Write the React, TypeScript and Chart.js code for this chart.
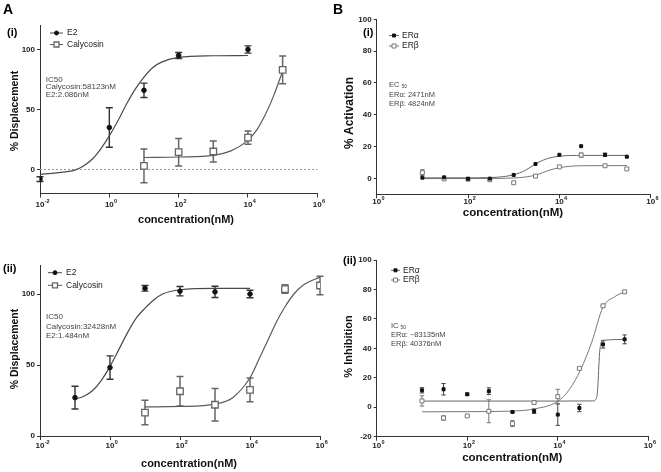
import React, { useEffect, useRef } from 'react';
import { Chart, registerables } from 'chart.js';

Chart.register(...registerables);

const FONT = '"Liberation Sans", Arial, Helvetica, sans-serif';

// ---------- Panel A(i) ----------
const aiE2X = [0.01, 1, 10, 100, 10000];
const aiE2Y = [-8, 35, 66, 95, 100];
const aiE2Err = [2, 16.5, 6, 2.5, 3];
const aiCalX = [10, 100, 1000, 10000, 100000];
const aiCalY = [3, 14.4, 15, 26.5, 83];
const aiCalErr = [14, 11.5, 8.7, 5.5, 11.5];
const aiE2FitX = [0.01, 0.03, 0.1, 0.18, 0.32, 0.56, 1, 1.8, 3.2, 5.6, 10, 18, 32, 100, 1000, 10000];
const aiE2FitY = [-3.9, -2.8, -0.5, 3, 8.5, 17, 28, 41, 55, 67, 77, 85, 89.5, 93.5, 94.8, 95];
const aiCalFitX = [10, 100, 1000, 3200, 10000, 18000, 32000, 56000, 100000];
const aiCalFitY = [10, 10.4, 11.8, 15.5, 24.5, 33, 46, 62, 82];

// ---------- Panel A(ii) ----------
const aiiE2X = [0.1, 1, 10, 100, 1000, 10000];
const aiiE2Y = [27, 48.2, 104, 102, 101.5, 100];
const aiiE2Err = [8, 8.2, 2, 3.3, 4, 2.6];
const aiiCalX = [10, 100, 1000, 10000, 100000, 1000000];
const aiiCalY = [16.5, 31.5, 22, 32.5, 103.5, 106];
const aiiCalErr = [8.6, 10.4, 11.4, 8.3, 3, 6.5];
const aiiE2FitX = [0.1, 0.18, 0.32, 0.56, 1, 1.8, 3.2, 5.6, 10, 18, 32, 100, 1000, 10000];
const aiiE2FitY = [26, 28, 32, 39, 49, 61, 73, 83, 90, 96, 100, 103, 104, 104];
const aiiCalFitX = [10, 100, 1000, 3200, 10000, 18000, 32000, 56000, 100000, 180000, 320000, 1000000];
const aiiCalFitY = [20.5, 20.8, 22.5, 27, 41, 54, 67, 80, 91, 100, 106, 112];

// ---------- Panels B ----------
const bConc = [10, 30, 100, 300, 1000, 3000, 10000, 30000, 100000, 300000];

const biAlphaY = [0.4, 0.6, -0.3, -0.2, 2.1, 9, 14.8, 20.2, 14.8, 13.6];
const biAlphaErr = [0, 0, 0, 0, 0, 0, 0, 0, 1, 0];
const biBetaY = [3.6, -0.4, -0.6, -0.9, -2.8, 1.4, 7.2, 14.6, 7.9, 5.9];
const biBetaErr = [1.8, 0, 0, 0, 0, 0, 0, 1.3, 0, 0];
const biAlphaFitX = [10, 100, 320, 1000, 1800, 3200, 5600, 10000, 32000, 300000];
const biAlphaFitY = [0.3, 0.3, 0.5, 2.2, 5, 9.5, 12.5, 13.9, 14.4, 14.4];
const biBetaFitX = [10, 300, 1000, 1800, 3200, 5600, 10000, 18000, 32000, 300000];
const biBetaFitY = [-0.2, -0.1, 0.2, 0.8, 2.2, 4.8, 6.7, 7.6, 7.9, 8];

const biiAlphaY = [11.5, 12.2, 8.8, 10.9, -3.2, -2.7, -5, -0.5, 42.7, 46.1];
const biiAlphaErr = [1.8, 3.9, 0.8, 2.3, 0.5, 1.5, 7.3, 2.5, 2.5, 3];
const biiBetaY = [4.3, -7.3, -5.9, -2.7, -11.1, 3.2, 7.2, 26.4, 68.9, 78.4];
const biiBetaErr = [3.5, 1.5, 0.5, 7.8, 2, 0.5, 5, 0.5, 0.5, 0.5];
const biiAlphaFitX = [10, 10000, 60000, 70000, 76000, 80000, 84000, 90000, 100000, 300000];
const biiAlphaFitY = [4.2, 4.2, 4.3, 5.5, 12, 25, 37, 43.5, 45.5, 46];
const biiBetaFitX = [10, 100, 1000, 3200, 10000, 18000, 32000, 56000, 100000, 180000, 300000];
const biiBetaFitY = [-3.1, -3, -2.6, -1, 4, 12, 25.5, 44, 68, 75, 78.5];

// ---------- Axis ticks ----------
const aXTicks = [0.01, 1, 100, 10000, 1000000];
const aXExp = ['-2', '0', '2', '4', '6'];
const bXTicks = [1, 100, 10000, 1000000];
const bXExp = ['0', '2', '4', '6'];
const aYTicks = [0, 50, 100];
const biYTicks = [0, 20, 40, 60, 80, 100];
const biiYTicks = [-20, 0, 20, 40, 60, 80, 100];

const styleE2 = { pointStyle: 'circle', radius: 2.3, fill: '#111', stroke: '#111', bw: 1, curve: '#4a4a4a', cw: 1.2, err: '#333', cap: 3.5, ew: 1.4 };
const styleCal = { pointStyle: 'rect', radius: 4.6, fill: '#fff', stroke: '#666', bw: 1.3, curve: '#5a5a5a', cw: 1.2, err: '#666', cap: 3.5, ew: 1.5 };
const styleAlpha = { pointStyle: 'rect', radius: 2.1, fill: '#111', stroke: '#111', bw: 1, curve: '#666', cw: 1, err: '#444', cap: 2.2, ew: 1 };
const styleBeta = { pointStyle: 'rect', radius: 2.8, fill: '#fff', stroke: '#777', bw: 1, curve: '#777', cw: 1, err: '#777', cap: 2.2, ew: 1 };

const panels = [
  {
    key: 'Ai', left: 0, top: 0, w: 330, h: 236,
    area: { l: 40, r: 317.3, t: 25.5, b: 193.5 },
    xMin: 0.01, xMax: 1000000, xTicks: aXTicks, xExp: aXExp, tickOff: 11.5,
    yMin: -20, yMax: 120, yTicks: aYTicks, tickBold: false,
    letter: 'A', roman: '(i)', romanPos: [7, 33],
    yTitle: '% Displacement', yTitlePos: [15, 111], yTitleSize: 10.5,
    xTitle: 'concentration(nM)', xTitlePos: [186, 220], xTitleSize: 11,
    zeroLine: true,
    series: [
      { label: 'E2', x: aiE2X, y: aiE2Y, err: aiE2Err, fx: aiE2FitX, fy: aiE2FitY, st: styleE2 },
      { label: 'Calycosin', x: aiCalX, y: aiCalY, err: aiCalErr, fx: aiCalFitX, fy: aiCalFitY, st: styleCal },
    ],
    legend: { x0: 50, x1: 63, tx: 67, ys: [33, 44.5], size: 8.5, marks: [2, 2.5] },
    annot: { x: 45.7, ys: [79.5, 87, 94.5], size: 8, lines: [{ t: 'IC50' }, { t: 'Calycosin:58123nM' }, { t: 'E2:2.086nM' }] },
  },
  {
    key: 'Aii', left: 0, top: 236, w: 330, h: 236,
    area: { l: 40, r: 320, t: 29.6, b: 200 },
    xMin: 0.01, xMax: 1000000, xTicks: aXTicks, xExp: aXExp, tickOff: 9.5,
    yMin: 0, yMax: 120, yTicks: aYTicks, tickBold: false,
    letter: '', roman: '(ii)', romanPos: [3, 33],
    yTitle: '% Displacement', yTitlePos: [15, 113], yTitleSize: 10.5,
    xTitle: 'concentration(nM)', xTitlePos: [189, 228.3], xTitleSize: 11,
    zeroLine: false,
    series: [
      { label: 'E2', x: aiiE2X, y: aiiE2Y, err: aiiE2Err, fx: aiiE2FitX, fy: aiiE2FitY, st: styleE2 },
      { label: 'Calycosin', x: aiiCalX, y: aiiCalY, err: aiiCalErr, fx: aiiCalFitX, fy: aiiCalFitY, st: styleCal },
    ],
    legend: { x0: 48, x1: 62, tx: 66, ys: [36.7, 49.3], size: 8.5, marks: [2, 2.5] },
    annot: { x: 46, ys: [81, 90.5, 99.5], size: 8, lines: [{ t: 'IC50' }, { t: 'Calycosin:32428nM' }, { t: 'E2:1.484nM' }] },
  },
  {
    key: 'Bi', left: 330, top: 0, w: 331, h: 236,
    area: { l: 46.7, r: 320.7, t: 19.3, b: 194.2 },
    xMin: 1, xMax: 1000000, xTicks: bXTicks, xExp: bXExp, tickOff: 7.5,
    yMin: -10, yMax: 100, yTicks: biYTicks, tickBold: true,
    letter: 'B', roman: '(i)', romanPos: [33, 33],
    yTitle: '% Activation', yTitlePos: [19.3, 113], yTitleSize: 12,
    xTitle: 'concentration(nM)', xTitlePos: [183, 213], xTitleSize: 11.5,
    zeroLine: false,
    series: [
      { label: 'ERα', x: bConc, y: biAlphaY, err: biAlphaErr, fx: biAlphaFitX, fy: biAlphaFitY, st: styleAlpha },
      { label: 'ERβ', x: bConc, y: biBetaY, err: biBetaErr, fx: biBetaFitX, fy: biBetaFitY, st: styleBeta },
    ],
    legend: { x0: 59, x1: 69, tx: 72, ys: [35.5, 46], size: 8.5, marks: [1.5, 2] },
    annot: { x: 59, ys: [85, 95, 104], size: 7.5, lines: [{ t: 'EC', sub: '50' }, { t: 'ERα: 2471nM' }, { t: 'ERβ: 4824nM' }] },
  },
  {
    key: 'Bii', left: 330, top: 236, w: 331, h: 236,
    area: { l: 46.7, r: 318.3, t: 24, b: 200.7 },
    xMin: 1, xMax: 1000000, xTicks: bXTicks, xExp: bXExp, tickOff: 9.3,
    yMin: -20, yMax: 100, yTicks: biiYTicks, tickBold: true,
    letter: '', roman: '(ii)', romanPos: [13, 25],
    yTitle: '% Inhibition', yTitlePos: [19.3, 110.5], yTitleSize: 11,
    xTitle: 'concentration(nM)', xTitlePos: [182.3, 221.7], xTitleSize: 11.5,
    zeroLine: false,
    series: [
      { label: 'ERα', x: bConc, y: biiAlphaY, err: biiAlphaErr, fx: biiAlphaFitX, fy: biiAlphaFitY, st: styleAlpha },
      { label: 'ERβ', x: bConc, y: biiBetaY, err: biiBetaErr, fx: biiBetaFitX, fy: biiBetaFitY, st: styleBeta },
    ],
    legend: { x0: 61, x1: 70, tx: 73, ys: [34.3, 44], size: 8.5, marks: [1.5, 2] },
    annot: { x: 61, ys: [90, 99.3, 108], size: 7.5, lines: [{ t: 'IC', sub: '50' }, { t: 'ERα: ~83135nM' }, { t: 'ERβ: 40376nM' }] },
  },
];

const X_AXIS_H = 20;

function drawMarker(ctx, st, x, y, r) {
  ctx.save();
  ctx.fillStyle = st.fill;
  ctx.strokeStyle = st.stroke;
  ctx.lineWidth = st.bw;
  ctx.beginPath();
  if (st.pointStyle === 'circle') {
    ctx.arc(x, y, r, 0, Math.PI * 2);
  } else {
    ctx.rect(x - r, y - r, 2 * r, 2 * r);
  }
  ctx.fill();
  ctx.stroke();
  ctx.restore();
}

function buildConfig(p) {
  const datasets = [];
  p.series.forEach((s) => {
    datasets.push({
      label: s.label,
      data: s.x.map((v, i) => ({ x: v, y: s.y[i] })),
      showLine: false,
      pointStyle: s.st.pointStyle,
      pointRadius: s.st.radius,
      pointBackgroundColor: s.st.fill,
      pointBorderColor: s.st.stroke,
      pointBorderWidth: s.st.bw,
    });
  });
  p.series.forEach((s) => {
    datasets.push({
      label: s.label + ' fit',
      data: s.fx.map((v, i) => ({ x: v, y: s.fy[i] })),
      showLine: true,
      pointRadius: 0,
      borderColor: s.st.curve,
      borderWidth: s.st.cw,
      tension: 0.4,
      cubicInterpolationMode: 'monotone',
      fill: false,
    });
  });

  const deco = {
    id: 'deco' + p.key,
    beforeDatasetsDraw(chart) {
      const ctx = chart.ctx;
      const xs = chart.scales.x;
      const ys = chart.scales.y;
      const ca = chart.chartArea;
      if (p.zeroLine) {
        ctx.save();
        ctx.strokeStyle = '#9a9a9a';
        ctx.lineWidth = 1;
        ctx.setLineDash([2, 2]);
        const y0 = ys.getPixelForValue(0);
        ctx.beginPath();
        ctx.moveTo(ca.left, y0);
        ctx.lineTo(ca.right, y0);
        ctx.stroke();
        ctx.restore();
      }
      p.series.forEach((s) => {
        ctx.save();
        ctx.strokeStyle = s.st.err;
        ctx.lineWidth = s.st.ew;
        s.x.forEach((xv, i) => {
          const e = s.err[i];
          if (!e) return;
          const px = xs.getPixelForValue(xv);
          const y1 = ys.getPixelForValue(s.y[i] + e);
          const y2 = ys.getPixelForValue(s.y[i] - e);
          const c = s.st.cap;
          ctx.beginPath();
          ctx.moveTo(px, y1);
          ctx.lineTo(px, y2);
          ctx.moveTo(px - c, y1);
          ctx.lineTo(px + c, y1);
          ctx.moveTo(px - c, y2);
          ctx.lineTo(px + c, y2);
          ctx.stroke();
        });
        ctx.restore();
      });
    },
    afterDraw(chart) {
      const ctx = chart.ctx;
      const xs = chart.scales.x;
      const ca = chart.chartArea;
      ctx.save();
      // x tick labels with superscripts
      p.xTicks.forEach((v, i) => {
        const px = xs.getPixelForValue(v);
        const y = ca.bottom + p.tickOff;
        ctx.fillStyle = '#222';
        ctx.font = `bold 8px ${FONT}`;
        ctx.textAlign = 'center';
        ctx.textBaseline = 'middle';
        const wb = ctx.measureText('10').width;
        ctx.fillText('10', px, y);
        ctx.font = `bold 5.5px ${FONT}`;
        ctx.textAlign = 'left';
        ctx.fillText(p.xExp[i], px + wb / 2 + 0.3, y - 3.2);
      });
      // axis titles
      ctx.fillStyle = '#111';
      ctx.font = `bold ${p.xTitleSize}px ${FONT}`;
      ctx.textAlign = 'center';
      ctx.textBaseline = 'middle';
      ctx.fillText(p.xTitle, p.xTitlePos[0], p.xTitlePos[1]);
      ctx.save();
      ctx.translate(p.yTitlePos[0], p.yTitlePos[1]);
      ctx.rotate(-Math.PI / 2);
      ctx.font = `bold ${p.yTitleSize}px ${FONT}`;
      ctx.fillText(p.yTitle, 0, 0);
      ctx.restore();
      // panel labels
      ctx.textAlign = 'left';
      ctx.fillStyle = '#000';
      if (p.letter) {
        ctx.font = `bold 14px ${FONT}`;
        ctx.fillText(p.letter, 3, 10);
      }
      ctx.font = `bold 11px ${FONT}`;
      ctx.fillText(p.roman, p.romanPos[0], p.romanPos[1]);
      // legend
      const lg = p.legend;
      p.series.forEach((s, i) => {
        const y = lg.ys[i];
        ctx.strokeStyle = s.st.curve;
        ctx.lineWidth = 1;
        ctx.beginPath();
        ctx.moveTo(lg.x0, y);
        ctx.lineTo(lg.x1, y);
        ctx.stroke();
        drawMarker(ctx, s.st, (lg.x0 + lg.x1) / 2, y, lg.marks[i]);
        ctx.fillStyle = '#222';
        ctx.font = `${lg.size}px ${FONT}`;
        ctx.textAlign = 'left';
        ctx.textBaseline = 'middle';
        ctx.fillText(s.label, lg.tx, y);
      });
      // annotation
      const an = p.annot;
      ctx.fillStyle = '#444';
      an.lines.forEach((ln, i) => {
        ctx.font = `${an.size}px ${FONT}`;
        ctx.fillText(ln.t, an.x, an.ys[i]);
        if (ln.sub) {
          const w = ctx.measureText(ln.t + ' ').width;
          ctx.font = `${an.size - 2.5}px ${FONT}`;
          ctx.fillText(ln.sub, an.x + w, an.ys[i] + 2);
        }
      });
      ctx.restore();
    },
  };

  return {
    type: 'scatter',
    data: { datasets },
    options: {
      responsive: false,
      maintainAspectRatio: false,
      animation: false,
      devicePixelRatio: 1,
      events: [],
      layout: {
        padding: {
          left: 0,
          top: p.area.t,
          right: p.w - p.area.r,
          bottom: p.h - p.area.b - X_AXIS_H,
        },
      },
      plugins: { legend: { display: false }, tooltip: { enabled: false }, title: { display: false } },
      scales: {
        x: {
          type: 'logarithmic',
          position: 'bottom',
          min: p.xMin,
          max: p.xMax,
          afterBuildTicks: (s) => {
            s.ticks = p.xTicks.map((v) => ({ value: v }));
          },
          afterFit: (s) => {
            s.height = X_AXIS_H;
          },
          ticks: { display: false },
          grid: { display: true, drawOnChartArea: false, drawTicks: true, tickLength: 4, color: '#333', lineWidth: 1 },
          border: { display: true, color: '#333', width: 1 },
          title: { display: false },
        },
        y: {
          type: 'linear',
          position: 'left',
          min: p.yMin,
          max: p.yMax,
          afterBuildTicks: (s) => {
            s.ticks = p.yTicks.map((v) => ({ value: v }));
          },
          afterFit: (s) => {
            s.width = p.area.l;
          },
          ticks: {
            font: { family: FONT, size: 8, weight: 'bold' },
            color: '#222',
            padding: 2,
          },
          grid: { display: true, drawOnChartArea: false, drawTicks: true, tickLength: 3, color: '#333', lineWidth: 1 },
          border: { display: true, color: '#333', width: 1 },
          title: { display: false },
        },
      },
    },
    plugins: [deco],
  };
}

function Panel({ p }) {
  const ref = useRef(null);
  useEffect(() => {
    const chart = new Chart(ref.current, buildConfig(p));
    return () => chart.destroy();
  }, [p]);
  return (
    <canvas
      ref={ref}
      width={p.w}
      height={p.h}
      style={{ position: 'absolute', left: p.left, top: p.top, width: p.w, height: p.h }}
    />
  );
}

export default function App() {
  return (
    <div style={{ position: 'absolute', left: 0, top: 0, width: 661, height: 472, background: '#fff', overflow: 'hidden' }}>
      {panels.map((p) => (
        <Panel key={p.key} p={p} />
      ))}
    </div>
  );
}
